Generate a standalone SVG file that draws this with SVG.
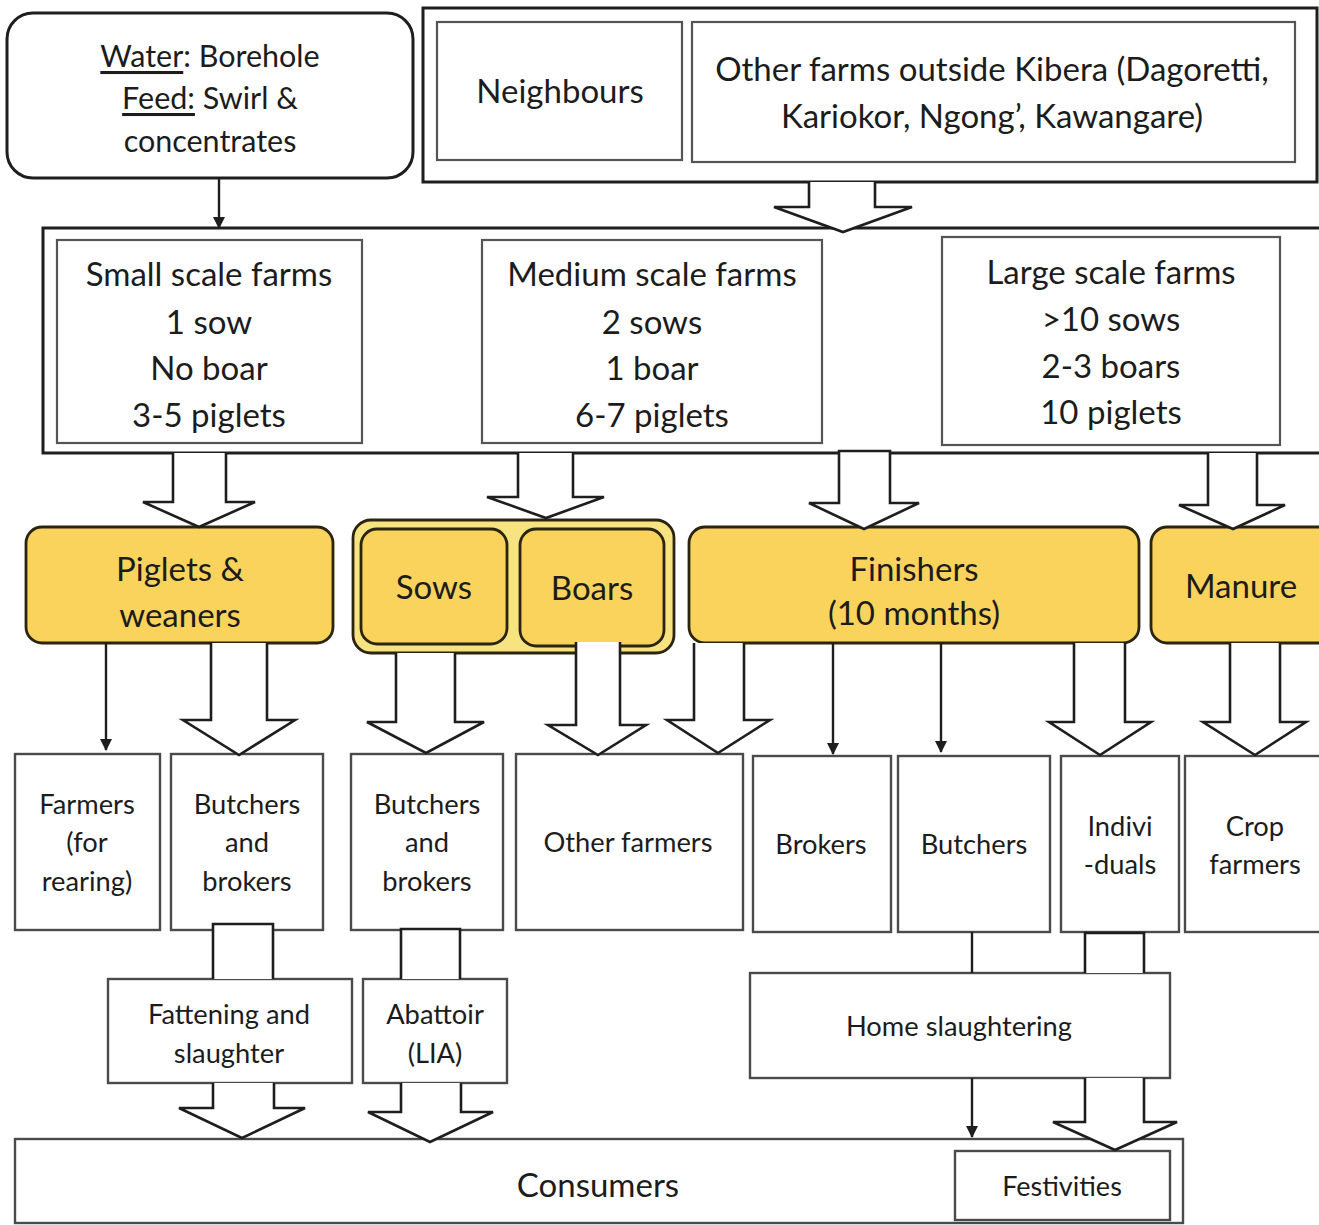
<svg xmlns="http://www.w3.org/2000/svg" width="1319" height="1225" viewBox="0 0 1319 1225">
<defs>
<style>
text{font-family:Lato,"Open Sans","Liberation Sans",sans-serif;fill:#1c1c1c;text-anchor:middle;dominant-baseline:central}
.t30{font-size:33px}
.t28{font-size:30.5px}
.t25{font-size:27.3px}
.t24{font-size:27px}
.outer{fill:#fff;stroke:#1e1e1e;stroke-width:3}
.inner{fill:#fff;stroke:#555;stroke-width:2.2}
.box{fill:#fff;stroke:#4a4a4a;stroke-width:2.4}
.yel{fill:#f9d35c;stroke:#2a2410;stroke-width:2.8}
.yelg{fill:#f7e37f;stroke:#2a2410;stroke-width:2.8}
.blk{fill:#fff;stroke:#1e1e1e;stroke-width:2.6;stroke-linejoin:miter}
.ln{fill:none;stroke:#1e1e1e;stroke-width:2.4}
</style>
<marker id="ah" markerWidth="12" markerHeight="14" refX="11" refY="6" orient="auto" markerUnits="userSpaceOnUse" viewBox="0 0 12 12">
<path d="M0,0 L12,6 L0,12 z" fill="#1e1e1e"/>
</marker>
</defs>
<rect width="1319" height="1225" fill="#fff"/>

<g id="inputs">
<rect x="7" y="13" width="406" height="165" rx="26" class="outer" stroke-width="2.6"/>
<text class="t28" x="210" y="55"><tspan text-decoration="underline">Water</tspan>: Borehole</text>
<text class="t28" x="210" y="97"><tspan text-decoration="underline">Feed:</tspan> Swirl &amp;</text>
<text class="t28" x="210" y="140">concentrates</text>
</g>

<g id="sources">
<rect x="423" y="8" width="894" height="174" class="outer"/>
<g id="neighbours">
<rect x="437" y="22" width="245" height="138" class="inner"/>
<text class="t30" x="560" y="90">Neighbours</text>
</g>
<g id="other-farms">
<rect x="692" y="22" width="603" height="140" class="inner"/>
<text class="t30" x="992" y="68">Other farms outside Kibera (Dagoretti,</text>
<text class="t30" x="992" y="115">Kariokor, Ngong’, Kawangare)</text>
</g>
</g>

<g id="farms">
<rect x="43" y="228" width="1290" height="225" class="outer"/>
<g id="small-farms">
<rect x="57" y="240" width="305" height="203" class="inner"/>
<text class="t30" x="209" y="273">Small scale farms</text>
<text class="t30" x="209" y="321">1 sow</text>
<text class="t30" x="209" y="367">No boar</text>
<text class="t30" x="209" y="414">3-5 piglets</text>
</g>
<g id="medium-farms">
<rect x="482" y="240" width="340" height="203" class="inner"/>
<text class="t30" x="652" y="273">Medium scale farms</text>
<text class="t30" x="652" y="321">2 sows</text>
<text class="t30" x="652" y="367">1 boar</text>
<text class="t30" x="652" y="414">6-7 piglets</text>
</g>
<g id="large-farms">
<rect x="942" y="237" width="338" height="208" class="inner"/>
<text class="t30" x="1111" y="271">Large scale farms</text>
<text class="t30" x="1111" y="318">&gt;10 sows</text>
<text class="t30" x="1111" y="365">2-3 boars</text>
<text class="t30" x="1111" y="411">10 piglets</text>
</g>
</g>

<g id="piglets">
<rect x="26" y="527" width="307" height="116" rx="16" class="yel"/>
<text class="t30" x="180" y="568">Piglets &amp;</text>
<text class="t30" x="180" y="614">weaners</text>
</g>
<g id="breeding">
<rect x="353" y="520" width="321" height="133" rx="18" class="yelg"/>
<g id="sows">
<rect x="361" y="529" width="146" height="115" rx="16" class="yel"/>
<text class="t30" x="434" y="586">Sows</text>
</g>
<g id="boars">
<rect x="520" y="529" width="144" height="117" rx="16" class="yel"/>
<text class="t30" x="592" y="587">Boars</text>
</g>
</g>
<g id="finishers">
<rect x="689" y="527" width="450" height="116" rx="16" class="yel"/>
<text class="t30" x="914" y="568">Finishers</text>
<text class="t30" x="914" y="612">(10 months)</text>
</g>
<g id="manure">
<rect x="1151" y="527" width="190" height="116" rx="16" class="yel"/>
<text class="t30" x="1241" y="585">Manure</text>
</g>

<g id="farmers-rearing">
<rect x="15" y="754" width="145" height="176" class="box"/>
<text class="t25" x="87" y="803">Farmers</text>
<text class="t25" x="87" y="841">(for</text>
<text class="t25" x="87" y="880">rearing)</text>
</g>
<g id="butchers-brokers-1">
<rect x="171" y="754" width="152" height="176" class="box"/>
<text class="t25" x="247" y="803">Butchers</text>
<text class="t25" x="247" y="841">and</text>
<text class="t25" x="247" y="880">brokers</text>
</g>
<g id="butchers-brokers-2">
<rect x="351" y="754" width="152" height="176" class="box"/>
<text class="t25" x="427" y="803">Butchers</text>
<text class="t25" x="427" y="841">and</text>
<text class="t25" x="427" y="880">brokers</text>
</g>
<g id="other-farmers">
<rect x="516" y="754" width="227" height="176" class="box"/>
<text class="t25" x="628" y="841">Other farmers</text>
</g>
<g id="brokers">
<rect x="753" y="756" width="138" height="176" class="box"/>
<text class="t25" x="821" y="843">Brokers</text>
</g>
<g id="butchers">
<rect x="898" y="756" width="152" height="176" class="box"/>
<text class="t25" x="974" y="843">Butchers</text>
</g>
<g id="individuals">
<rect x="1061" y="756" width="118" height="176" class="box"/>
<text class="t25" x="1120" y="825">Indivi</text>
<text class="t25" x="1120" y="863">-duals</text>
</g>
<g id="crop-farmers">
<rect x="1185" y="756" width="150" height="176" class="box"/>
<text class="t25" x="1255" y="825">Crop</text>
<text class="t25" x="1255" y="863">farmers</text>
</g>

<g id="fattening">
<rect x="108" y="979" width="244" height="104" class="box"/>
<text class="t25" x="229" y="1013">Fattening and</text>
<text class="t25" x="229" y="1052">slaughter</text>
</g>
<g id="abattoir">
<rect x="363" y="979" width="144" height="104" class="box"/>
<text class="t25" x="435" y="1013">Abattoir</text>
<text class="t25" x="435" y="1052">(LIA)</text>
</g>
<g id="home-slaughtering">
<rect x="750" y="973" width="420" height="105" class="box"/>
<text class="t25" x="959" y="1025">Home slaughtering</text>
</g>

<g id="consumers">
<rect x="15" y="1139" width="1168" height="84" class="box"/>
<text class="t30" x="598" y="1184">Consumers</text>
</g>
<g id="festivities">
<rect x="955" y="1151" width="215" height="69" class="box"/>
<text class="t24" x="1062" y="1185">Festivities</text>
</g>

<g id="connectors">
<line x1="219" y1="178" x2="219" y2="228" class="ln" marker-end="url(#ah)"/>
<path class="blk" d="M809,182 L809,207 L774,207 L843,232 L912,207 L875,207 L875,182"/>
<path class="blk" d="M173,453 L173,502 L143,502 L199,527 L255,502 L226,502 L226,453"/>
<path class="blk" d="M518,453 L518,497 L487,497 L546,518 L604,497 L573,497 L573,453"/>
<path class="blk" d="M839,451 L839,503 L809,503 L864,529 L919,503 L890,503 L890,451 Z"/>
<path class="blk" d="M1208,453 L1208,505 L1179,505 L1233,529 L1285,505 L1257,505 L1257,453"/>

<line x1="106" y1="643" x2="106" y2="750" class="ln" marker-end="url(#ah)"/>
<path class="blk" d="M211,643 L211,720 L183,720 L239,755 L295,720 L267,720 L267,643"/>
<path class="blk" d="M396,653 L396,722 L367,722 L426,753 L484,722 L455,722 L455,653"/>
<path class="blk" d="M576,642 L576,725 L548,725 L598,755 L646,725 L620,725 L620,642"/>
<path class="blk" d="M694,643 L694,720 L667,720 L718,753 L770,720 L744,720 L744,643"/>
<line x1="833" y1="643" x2="833" y2="754" class="ln" marker-end="url(#ah)"/>
<line x1="941" y1="643" x2="941" y2="752" class="ln" marker-end="url(#ah)"/>
<path class="blk" d="M1074,643 L1074,722 L1049,722 L1100,755 L1151,722 L1125,722 L1125,643"/>
<path class="blk" d="M1230,643 L1230,722 L1203,722 L1255,755 L1306,722 L1280,722 L1280,643"/>

<path class="blk" d="M213,979 L213,924 L273,924 L273,979"/>
<path class="blk" d="M401,979 L401,929 L460,929 L460,979"/>
<line x1="972" y1="932" x2="972" y2="973" class="ln"/>
<path class="blk" d="M1085,973 L1085,933 L1144,933 L1144,973"/>

<path class="blk" d="M213,1083 L213,1108 L179,1108 L242,1138 L305,1108 L274,1108 L274,1083"/>
<path class="blk" d="M401,1083 L401,1112 L368,1112 L430,1142 L493,1112 L461,1112 L461,1083"/>
<line x1="972" y1="1078" x2="972" y2="1137" class="ln" marker-end="url(#ah)"/>
<path class="blk" d="M1085,1078 L1085,1122 L1053,1122 L1115,1150 L1177,1122 L1144,1122 L1144,1078"/>
</g>
</svg>
